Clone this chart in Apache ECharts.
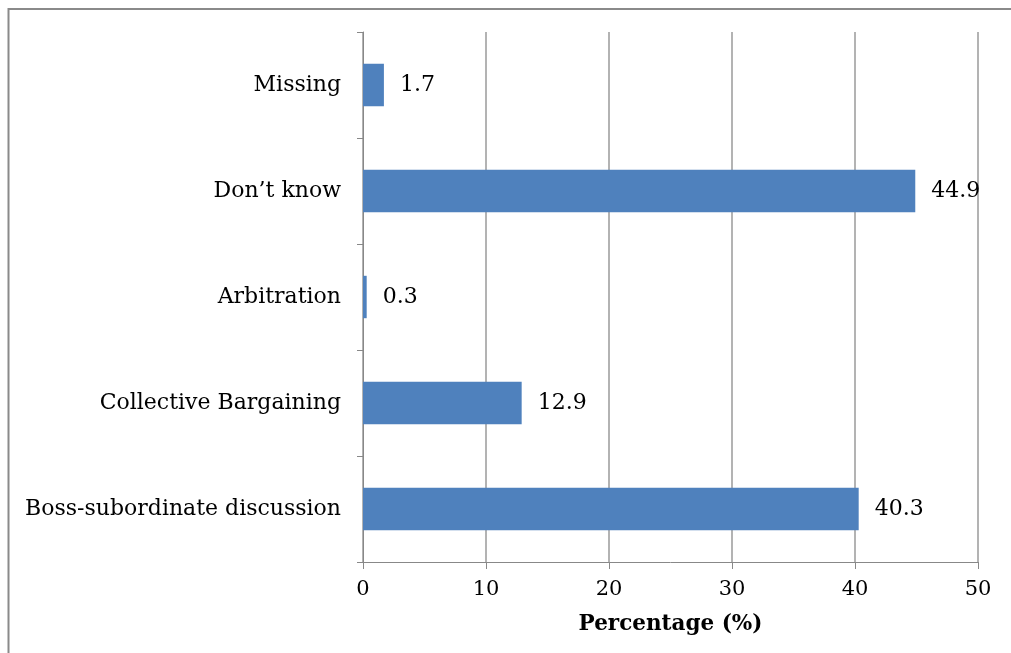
<!DOCTYPE html>
<html><head><meta charset="utf-8">
<script src="https://cdn.jsdelivr.net/npm/echarts@6/dist/echarts.min.js"></script>
<style>html,body{margin:0;padding:0;background:#fff}#c{width:1011px;height:653px}</style>
</head><body><div id="c"></div>
<script>
const categories = ["Boss-subordinate discussion","Collective Bargaining","Arbitration","Don\u2019t know","Missing"];
const values = [40.3, 12.9, 0.3, 44.9, 1.7];
const xTicks = [0,10,20,30,40,50];
const font = "DejaVu Serif";
const chart = echarts.init(document.getElementById('c'), null, {renderer:'canvas'});
chart.setOption({
  animation:false,
  backgroundColor:'#fff',
  grid:{left:363,right:33,top:32,bottom:91,containLabel:false},
  graphic:[{type:'polyline',shape:{points:[[8.5,653],[8.5,9],[1011,9]]},style:{stroke:'#8a8a8a',lineWidth:2,fill:null},z:10}],
  xAxis:{type:'value',min:xTicks[0],max:xTicks[xTicks.length-1],interval:10,
    name:'Percentage (%)',nameLocation:'middle',nameGap:51,
    nameTextStyle:{fontFamily:font,fontSize:21.5,fontWeight:'bold',color:'#000'},
    axisLine:{show:true,lineStyle:{color:'#888',width:1}},
    axisTick:{show:true,length:7,lineStyle:{color:'#888'}},
    axisLabel:{fontFamily:font,fontSize:21,color:'#000',margin:17},
    splitLine:{show:true,lineStyle:{color:'#9a9a9a',width:1.5}}},
  yAxis:{type:'category',data:categories,
    axisLine:{show:true,lineStyle:{color:'#888',width:1}},
    axisTick:{show:true,length:6,lineStyle:{color:'#888'}},
    axisLabel:{fontFamily:font,fontSize:22,color:'#000',margin:22}},
  series:[{type:'bar',data:values,barWidth:'40%',itemStyle:{color:'#4F81BD'},
    label:{show:true,position:'right',distance:16,fontFamily:font,fontSize:22,color:'#000',
      formatter:p=>p.value.toFixed(1)}}]
});
</script></body></html>
